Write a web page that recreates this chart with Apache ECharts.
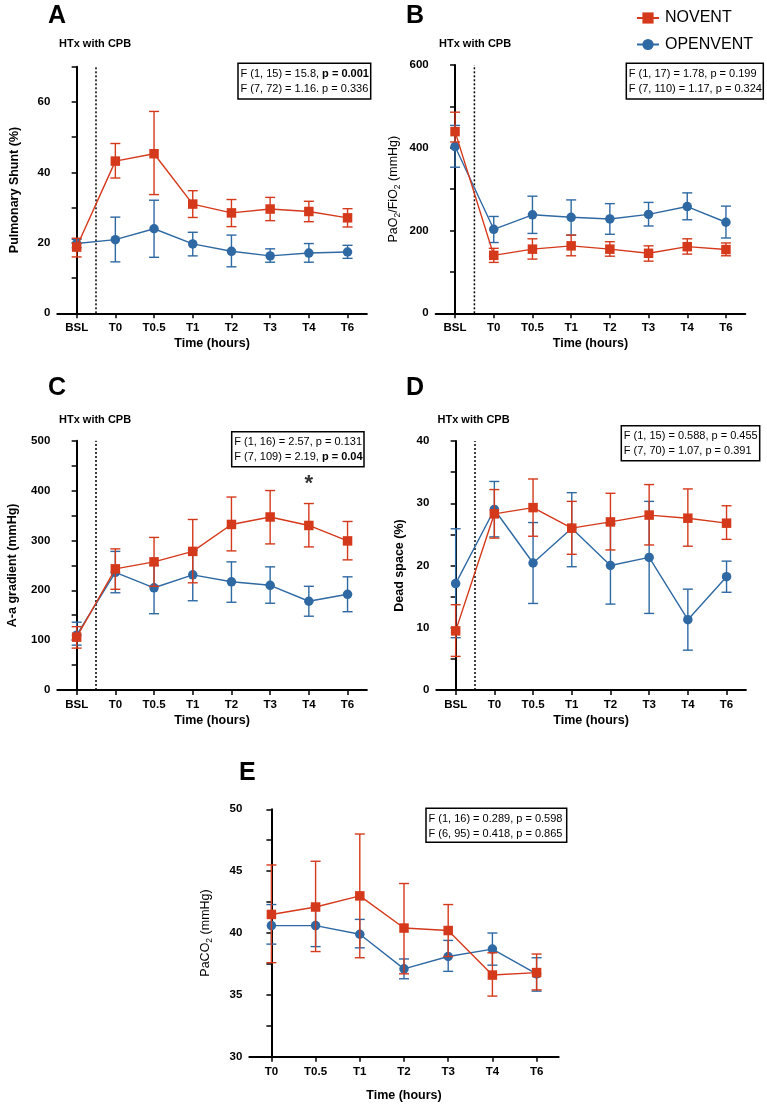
<!DOCTYPE html>
<html><head><meta charset="utf-8">
<script src="https://cdn.jsdelivr.net/npm/echarts@6/dist/echarts.min.js"></script>
<style>html,body{margin:0;padding:0;background:#fff}#c{width:767px;height:1106px}</style>
</head><body><div id="c"></div><script>
// ---------- data ----------
const categories = ['BSL', 'T0', 'T0.5', 'T1', 'T2', 'T3', 'T4', 'T6'];
const categoriesE = ['T0', 'T0.5', 'T1', 'T2', 'T3', 'T4', 'T6'];
const seriesNames = ['NOVENT', 'OPENVENT'];

// A: Pulmonary shunt (%)
const shuntNovent     = [18.8, 43.2, 45.3, 31.0, 28.5, 29.6, 28.9, 27.1];
const shuntNoventLow  = [16.0, 38.4, 33.7, 27.2, 24.6, 26.3, 26.0, 24.5];
const shuntNoventHigh = [21.3, 48.2, 57.3, 34.8, 32.3, 32.9, 31.8, 29.7];
const shuntOpen       = [19.8, 20.9, 24.0, 19.7, 17.6, 16.3, 17.1, 17.4];
const shuntOpenLow    = [18.6, 14.6, 15.9, 16.3, 13.2, 14.5, 14.5, 15.6];
const shuntOpenHigh   = [21.0, 27.3, 32.1, 23.0, 22.2, 18.3, 19.8, 19.3];

// B: PaO2/FiO2 (mmHg)
const pfNovent     = [439, 140, 155, 163, 155, 145, 161, 154];
const pfNoventLow  = [414, 123, 131, 139, 138, 126, 143, 139];
const pfNoventHigh = [486, 157, 180, 189, 173, 163, 180, 170];
const pfOpen       = [403, 203, 238, 232, 228, 239, 258, 220];
const pfOpenLow    = [353, 171, 193, 189, 191, 211, 226, 182];
const pfOpenHigh   = [454, 234, 283, 274, 265, 268, 291, 259];

// C: A-a gradient (mmHg)
const aaNovent     = [106, 243, 257, 278, 332, 347, 330, 299];
const aaNoventLow  = [84, 202, 208, 215, 279, 293, 287, 261];
const aaNoventHigh = [127, 283, 306, 342, 387, 400, 374, 338];
const aaOpen       = [110, 236, 205, 231, 217, 210, 178, 192];
const aaOpenLow    = [90, 195, 153, 179, 176, 174, 148, 157];
const aaOpenHigh   = [136, 278, 250, 280, 257, 247, 208, 227];

// D: Dead space (%)
const dsNovent     = [9.5, 28.3, 29.3, 26.0, 27.0, 28.1, 27.6, 26.8];
const dsNoventLow  = [5.4, 24.4, 24.7, 21.8, 22.5, 23.3, 23.1, 24.2];
const dsNoventHigh = [13.7, 32.2, 33.9, 30.3, 31.6, 33.0, 32.3, 29.6];
const dsOpen       = [17.1, 29.0, 20.4, 26.0, 20.0, 21.3, 11.3, 18.2];
const dsOpenLow    = [8.4, 24.6, 13.9, 19.8, 13.8, 12.3, 6.4, 15.7];
const dsOpenHigh   = [25.9, 33.5, 26.9, 31.7, 26.7, 30.3, 16.2, 20.7];

// E: PaCO2 (mmHg)
const co2Novent     = [41.5, 42.1, 43.0, 40.4, 40.2, 36.6, 36.8];
const co2NoventLow  = [37.6, 38.5, 38.0, 36.7, 38.1, 34.9, 35.4];
const co2NoventHigh = [45.5, 45.8, 48.0, 44.0, 42.3, 38.4, 38.3];
const co2Open       = [40.6, 40.6, 39.9, 37.1, 38.1, 38.7, 36.7];
const co2OpenLow    = [39.1, 38.9, 38.8, 36.3, 36.9, 37.4, 35.3];
const co2OpenHigh   = [42.3, 42.2, 41.1, 37.9, 39.4, 40.0, 38.0];

// significance marker (panel C, T4)
const starCategory = 'T4';
const starValue = 424;

// ---------- styling ----------
const RED = '#d5391b';
const BLUE = '#2f69a3';
const NF = "'Liberation Sans', Arial, Helvetica, sans-serif";
const AF = "'Liberation Sans', Arial, Helvetica, sans-serif";

const panels = [
  { letter: 'A', cats: categories, grid: { left: 57.3, top: 66.7, width: 309.6, height: 246.6 },
    min: 0, max: 70, interval: 10, every: 20, yName: 'Pulmonary Shunt (%)', yBold: true, yGap: 34, xGap: 24,
    nov: [shuntNovent, shuntNoventLow, shuntNoventHigh], open: [shuntOpen, shuntOpenLow, shuntOpenHigh], divider: true },
  { letter: 'B', cats: categories, grid: { left: 435.7, top: 65, width: 309.6, height: 248.3 },
    min: 0, max: 600, interval: 100, every: 200, yName: 'PaO{s|2}/FiO{s|2} (mmHg)', yBold: false, yGap: 34, xGap: 24,
    nov: [pfNovent, pfNoventLow, pfNoventHigh], open: [pfOpen, pfOpenLow, pfOpenHigh], divider: true },
  { letter: 'C', cats: categories, grid: { left: 57.3, top: 440.7, width: 309.6, height: 249.3 },
    min: 0, max: 500, interval: 50, every: 100, yName: 'A-a gradient (mmHg)', yBold: true, yGap: 36, xGap: 24,
    nov: [aaNovent, aaNoventLow, aaNoventHigh], open: [aaOpen, aaOpenLow, aaOpenHigh], divider: true },
  { letter: 'D', cats: categories, grid: { left: 436.3, top: 441, width: 309.6, height: 249 },
    min: 0, max: 40, interval: 5, every: 10, yName: 'Dead space (%)', yBold: true, yGap: 28, xGap: 24,
    nov: [dsNovent, dsNoventLow, dsNoventHigh], open: [dsOpen, dsOpenLow, dsOpenHigh], divider: true },
  { letter: 'E', cats: categoriesE, grid: { left: 249.3, top: 809.3, width: 309.4, height: 247.4 },
    min: 30, max: 50, interval: 2.5, every: 5, yName: 'PaCO{s|2} (mmHg)', yBold: false, yGap: 35, xGap: 32,
    nov: [co2Novent, co2NoventLow, co2NoventHigh], open: [co2Open, co2OpenLow, co2OpenHigh], divider: false }
];

function errRender(color) {
  return function (params, api) {
    const x = api.value(0), lo = api.value(1), hi = api.value(2);
    const p1 = api.coord([x, hi]), p2 = api.coord([x, lo]);
    const w = 5;
    const st = { stroke: color, lineWidth: 1.4 };
    return { type: 'group', children: [
      { type: 'line', shape: { x1: p1[0], y1: p1[1], x2: p2[0], y2: p2[1] }, style: st },
      { type: 'line', shape: { x1: p1[0] - w, y1: p1[1], x2: p1[0] + w, y2: p1[1] }, style: st },
      { type: 'line', shape: { x1: p2[0] - w, y1: p2[1], x2: p2[0] + w, y2: p2[1] }, style: st }
    ]};
  };
}

const grids = [], xAxes = [], yAxes = [], series = [];
panels.forEach((p, i) => {
  grids.push(Object.assign({ outerBoundsMode: 'none', containLabel: false }, p.grid));
  xAxes.push({
    type: 'category', gridIndex: i, data: p.cats, boundaryGap: true,
    axisLine: { show: true, lineStyle: { color: '#000', width: 2 } },
    axisTick: { show: true, alignWithLabel: true, length: 5, lineStyle: { color: '#000', width: 1.5 } },
    axisLabel: { fontFamily: NF, fontWeight: 'bold', fontSize: 11.5, color: '#000', margin: 9, interval: 0 },
    splitLine: { show: false },
    name: 'Time (hours)', nameLocation: 'middle', nameGap: p.xGap,
    nameTextStyle: { fontFamily: NF, fontWeight: 'bold', fontSize: 12.5, color: '#000' }
  });
  xAxes.push({ type: 'value', gridIndex: i, min: -0.5, max: p.cats.length - 0.5, show: false });
  yAxes.push({
    type: 'value', gridIndex: i, min: p.min, max: p.max, interval: p.interval,
    axisLine: { show: true, lineStyle: { color: '#000', width: 2 } },
    axisTick: { show: true, length: 5, lineStyle: { color: '#000', width: 1.5 } },
    axisLabel: { fontFamily: NF, fontWeight: 'bold', fontSize: 11.5, color: '#000', margin: 7,
      formatter: v => (Math.abs(v / p.every - Math.round(v / p.every)) < 1e-6 ? String(v) : '') },
    splitLine: { show: false },
    name: p.yName, nameLocation: 'middle', nameGap: p.yGap, nameRotate: 90,
    nameTextStyle: { fontFamily: NF, fontWeight: p.yBold ? 'bold' : 'normal', fontSize: 12.5, color: '#000', lineHeight: 17,
      rich: { s: { fontFamily: NF, fontSize: 8.5, fontWeight: p.yBold ? 'bold' : 'normal', color: '#000', verticalAlign: 'bottom', lineHeight: 17 } } }
  });
  const xi = i * 2;
  series.push({ type: 'custom', name: 'OPENVENT err', xAxisIndex: xi, yAxisIndex: i, renderItem: errRender(BLUE),
    encode: { x: 0, y: [1, 2] }, data: p.cats.map((c, j) => [j, p.open[1][j], p.open[2][j]]), silent: true, z: 2 });
  series.push({ type: 'line', name: 'OPENVENT', xAxisIndex: xi, yAxisIndex: i, data: p.open[0],
    symbol: 'circle', symbolSize: 9.5, itemStyle: { color: BLUE }, lineStyle: { color: BLUE, width: 1.4 }, z: 3 });
  series.push({ type: 'custom', name: 'NOVENT err', xAxisIndex: xi, yAxisIndex: i, renderItem: errRender(RED),
    encode: { x: 0, y: [1, 2] }, data: p.cats.map((c, j) => [j, p.nov[1][j], p.nov[2][j]]), silent: true, z: 4 });
  series.push({ type: 'line', name: 'NOVENT', xAxisIndex: xi, yAxisIndex: i, data: p.nov[0],
    symbol: 'rect', symbolSize: 9.5, itemStyle: { color: RED }, lineStyle: { color: RED, width: 1.4 }, z: 5 });
  if (p.divider) {
    series.push({ type: 'line', name: 'divider', xAxisIndex: xi + 1, yAxisIndex: i,
      data: [[0.5, p.min], [0.5, p.max]], symbol: 'none', silent: true,
      lineStyle: { color: '#000', width: 1.5, type: [2, 2] }, z: 1 });
  }
});

// significance star on panel C
series.push({ type: 'scatter', name: 'star', xAxisIndex: 4, yAxisIndex: 2,
  data: [[categories.indexOf(starCategory), starValue]], symbolSize: 0, silent: true,
  label: { show: true, position: 'inside', offset: [0, 5], formatter: '*', fontFamily: AF, fontWeight: 'bold', fontSize: 22, color: '#000' } });

// stats boxes
const statBoxes = [
  { x: 238, y: 63.3, w: 132.7, h: 35.7, l1: 'F (1, 15) = 15.8, {b|p = 0.001}', l2: 'F (7, 72) = 1.16. p = 0.336' },
  { x: 626.3, y: 63.3, w: 137, h: 35.7, l1: 'F (1, 17) = 1.78, p = 0.199', l2: 'F (7, 110) = 1.17, p = 0.324' },
  { x: 231.7, y: 431.7, w: 132.3, h: 35, l1: 'F (1, 16) = 2.57, p = 0.131', l2: 'F (7, 109) = 2.19, {b|p = 0.04}' },
  { x: 621.3, y: 425.7, w: 138.4, h: 35, l1: 'F (1, 15) = 0.588, p = 0.455', l2: 'F (7, 70) = 1.07, p = 0.391' },
  { x: 426, y: 808.3, w: 140.7, h: 34, l1: 'F (1, 16) = 0.289, p = 0.598', l2: 'F (6, 95) = 0.418, p = 0.865' }
];
const graphics = [];
statBoxes.forEach(b => {
  graphics.push({ type: 'rect', shape: { x: b.x, y: b.y, width: b.w, height: b.h }, style: { fill: '#fff', stroke: '#000', lineWidth: 1.5 }, z: 10 });
  [b.l1, b.l2].forEach((t, k) => {
    graphics.push({ type: 'text', x: b.x + 2.5, y: b.y + 10.5 + k * 14.7, z: 11,
      style: { text: t, fontFamily: NF, fontSize: 11, fill: '#000', verticalAlign: 'middle', align: 'left',
        rich: { b: { fontFamily: NF, fontSize: 11, fontWeight: 'bold', fill: '#000' } } } });
  });
});
const letters = [
  { t: 'A', x: 48, y: 16 }, { t: 'B', x: 406, y: 16 }, { t: 'C', x: 48, y: 388 },
  { t: 'D', x: 406, y: 388 }, { t: 'E', x: 239, y: 773.5 }
];
letters.forEach(l => graphics.push({ type: 'text', x: l.x, y: l.y, style: { text: l.t, fontFamily: AF, fontWeight: 'bold', fontSize: 25, fill: '#000', verticalAlign: 'middle' } }));
const htx = [{ x: 59, y: 44 }, { x: 439, y: 44 }, { x: 59, y: 419.5 }, { x: 437.5, y: 420 }];
htx.forEach(h => graphics.push({ type: 'text', x: h.x, y: h.y, style: { text: 'HTx with CPB', fontFamily: AF, fontWeight: 'bold', fontSize: 11, fill: '#000', verticalAlign: 'middle' } }));

const chart = echarts.init(document.getElementById('c'), null, { renderer: 'canvas' });
chart.setOption({
  backgroundColor: '#fff',
  animation: false,
  grid: grids, xAxis: xAxes, yAxis: yAxes, series: series,
  legend: {
    data: seriesNames, orient: 'vertical', left: 631, top: 5, itemWidth: 22, itemHeight: 14, itemGap: 10.5,
    textStyle: { fontFamily: AF, fontSize: 16, color: '#000', padding: [0, 0, 0, 1] }
  },
  graphic: graphics
});
</script></body></html>
